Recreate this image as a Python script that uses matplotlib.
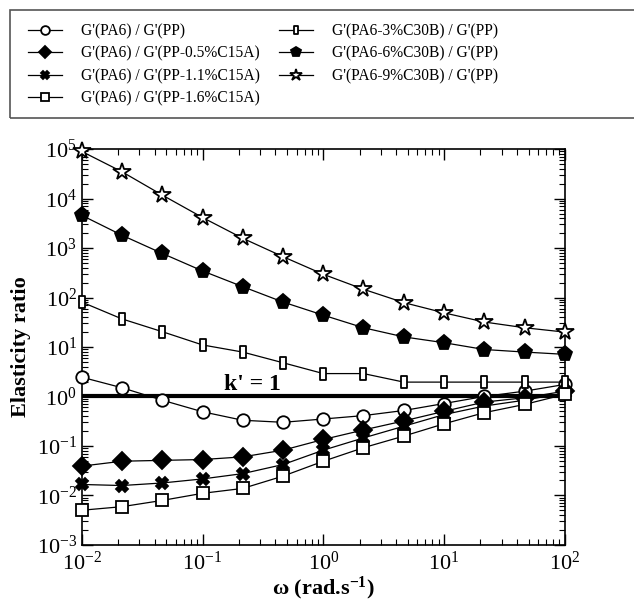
import numpy as np
import matplotlib
matplotlib.use("Agg")
import matplotlib.pyplot as plt
from matplotlib.path import Path
from matplotlib.patches import Rectangle

plt.rcParams['font.family'] = ['Liberation Serif', 'DejaVu Serif']
plt.rcParams['mathtext.fontset'] = 'custom'
plt.rcParams['mathtext.rm'] = 'Liberation Serif'
plt.rcParams['mathtext.it'] = 'Liberation Serif:italic'
plt.rcParams['mathtext.bf'] = 'Liberation Serif:bold'

# Data
omega = [0.01, 0.0215, 0.0464, 0.1, 0.215, 0.464, 1, 2.15, 4.64, 10, 21.5, 46.4, 100]

pa6_pp = [2.45, 1.5, 0.84, 0.49, 0.33, 0.30, 0.35, 0.41, 0.52, 0.72, 1.0, 1.28, 1.75]
pa6_pp05 = [0.039, 0.049, 0.051, 0.053, 0.060, 0.082, 0.135, 0.21, 0.32, 0.50, 0.77, 0.94, 1.28]
pa6_pp11 = [0.0166, 0.0158, 0.0178, 0.0215, 0.0275, 0.042, 0.082, 0.145, 0.25, 0.43, 0.64, 0.84, 1.18]
pa6_pp16 = [0.0050, 0.0059, 0.0079, 0.011, 0.0138, 0.0245, 0.049, 0.092, 0.158, 0.28, 0.47, 0.69, 1.1]
pa63_pp = [81, 37, 20.4, 11, 7.9, 4.8, 2.9, 2.9, 1.95, 1.95, 1.95, 1.95, 1.95]
pa66_pp = [4600, 1820, 780, 345, 166, 81, 44, 24.5, 16, 12.2, 8.9, 7.9, 7.1]
pa69_pp = [90000, 35000, 11800, 4150, 1580, 670, 295, 147, 79, 49, 32, 24.5, 20]

labels = ["G'(PA6) / G'(PP)",
          "G'(PA6) / G'(PP-0.5%C15A)",
          "G'(PA6) / G'(PP-1.1%C15A)",
          "G'(PA6) / G'(PP-1.6%C15A)",
          "G'(PA6-3%C30B) / G'(PP)",
          "G'(PA6-6%C30B) / G'(PP)",
          "G'(PA6-9%C30B) / G'(PP)"]

# thin upright rectangle marker
thin_rect = Path([(-0.45, -1), (0.45, -1), (0.45, 1), (-0.45, 1), (-0.45, -1)],
                 [Path.MOVETO, Path.LINETO, Path.LINETO, Path.LINETO, Path.CLOSEPOLY])

series = [
    (pa6_pp, 'o', 'white', 9),
    (pa6_pp05, 'D', 'black', 9),
    (pa6_pp11, 'X', 'black', 9),
    (pa6_pp16, 's', 'white', 9),
    (pa63_pp, thin_rect, 'white', 9),
    (pa66_pp, 'p', 'black', 11),
    (pa69_pp, '*', 'white', 13),
]

fig = plt.figure(figsize=(6.34, 6.04), dpi=100)
ax = fig.add_axes([0.129, 0.098, 0.762, 0.655])

handles = []
for (vals, mk, fc, ms), lab in zip(series, labels):
    h, = ax.plot(omega, vals, color='black', lw=0.9, marker=mk, ms=ms,
                 mfc=fc, mec='black', mew=1.3, label=lab, clip_on=False, zorder=3)
    handles.append(h)

ax.axhline(1, color='black', lw=3, zorder=2)
ax.text(0.26, 1.08, "k' = 1", fontsize=17, fontweight='bold', ha='center', va='bottom')

ax.set_xscale('log')
ax.set_yscale('log')
ax.set_xlim(1e-2, 1e2)
ax.set_ylim(1e-3, 1e5)
ax.set_yticks([10.0 ** k for k in range(-3, 6)])
ax.tick_params(which='both', direction='in', top=True, right=True, labelsize=16)
ax.tick_params(which='major', length=8, width=1)
ax.tick_params(which='minor', length=4, width=0.8)
ax.yaxis.set_minor_locator(matplotlib.ticker.LogLocator(base=10, subs=np.arange(2, 10), numticks=20))
ax.tick_params(axis='x', pad=5)
for s in ax.spines.values():
    s.set_linewidth(1.2)

ax.set_xlabel(r"ω (rad.s$^{\mathbf{-1}}$)", fontsize=16, fontweight='bold', labelpad=0)
ax.set_ylabel("Elasticity ratio", fontsize=16, fontweight='bold')

# legend box at the top of the figure
fig.patches.append(Rectangle((0.016, 0.805), 1.0, 0.178, transform=fig.transFigure,
                             fill=False, edgecolor='#555555', lw=1.2))
leg = fig.legend(handles=handles, ncol=2, loc='upper left',
                 bbox_to_anchor=(0.044, 0.962), borderpad=0, borderaxespad=0,
                 fontsize=11.2, frameon=False, markerscale=0.7,
                 handlelength=2.2, handletextpad=1.2, labelspacing=0.42,
                 columnspacing=1.25)

fig.savefig('out.png', dpi=100)
